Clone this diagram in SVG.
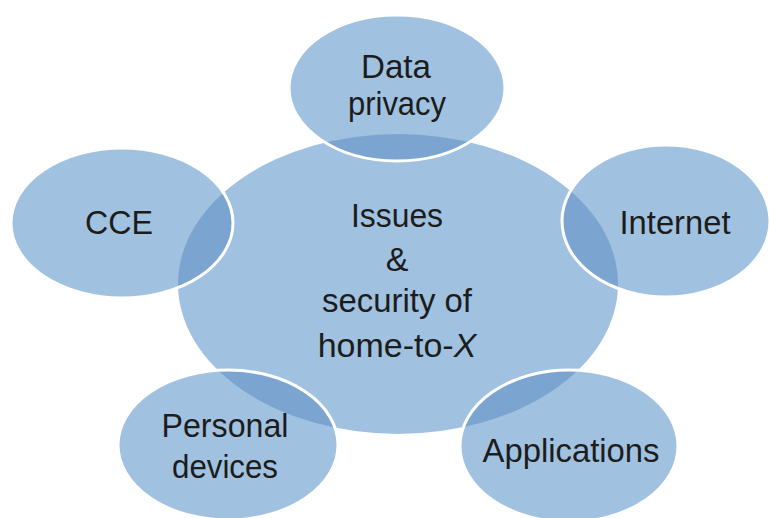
<svg xmlns="http://www.w3.org/2000/svg" width="770" height="518" viewBox="0 0 770 518">
  <style>
    .bg { fill: #ffffff; }
    .hub { fill: #a0c2e0; }
    .sat { fill: #a0c2e0; }
    .ov { fill: #7ba5d0; }
    .rim { fill: none; stroke: #ffffff; stroke-width: 3; }
    .lbl { font-family: "Liberation Sans", Arial, sans-serif; font-size: 34px; fill: #1c1c1c; text-anchor: middle; }
  </style>
  <defs>
    <clipPath id="hubClip">
      <ellipse cx="398" cy="284" rx="220" ry="150"/>
    </clipPath>
  </defs>
  <rect class="bg" x="0" y="0" width="770" height="518"/>

  <g id="hub">
    <ellipse class="hub" cx="398" cy="284" rx="220" ry="150"/>
  </g>

  <g id="connectors"/>

  <g id="node-data-privacy">
    <ellipse class="sat" cx="397" cy="88" rx="108" ry="73"/>
    <ellipse class="ov" cx="397" cy="88" rx="108" ry="73" clip-path="url(#hubClip)"/>
    <ellipse class="rim" cx="397" cy="88" rx="108" ry="73"/>
    <text class="lbl" x="396" y="78" textLength="70" lengthAdjust="spacingAndGlyphs">Data</text>
    <text class="lbl" x="397" y="115" textLength="98" lengthAdjust="spacingAndGlyphs">privacy</text>
  </g>

  <g id="node-cce">
    <ellipse class="sat" cx="122" cy="223" rx="111" ry="75"/>
    <ellipse class="ov" cx="122" cy="223" rx="111" ry="75" clip-path="url(#hubClip)"/>
    <ellipse class="rim" cx="122" cy="223" rx="111" ry="75"/>
    <text class="lbl" x="119" y="234" textLength="68" lengthAdjust="spacingAndGlyphs">CCE</text>
  </g>

  <g id="node-internet">
    <ellipse class="sat" cx="666" cy="221" rx="104" ry="76"/>
    <ellipse class="ov" cx="666" cy="221" rx="104" ry="76" clip-path="url(#hubClip)"/>
    <ellipse class="rim" cx="666" cy="221" rx="104" ry="76"/>
    <text class="lbl" x="675" y="234" textLength="111" lengthAdjust="spacingAndGlyphs">Internet</text>
  </g>

  <g id="node-personal-devices">
    <ellipse class="sat" cx="228" cy="445" rx="110" ry="75"/>
    <ellipse class="ov" cx="228" cy="445" rx="110" ry="75" clip-path="url(#hubClip)"/>
    <ellipse class="rim" cx="228" cy="445" rx="110" ry="75"/>
    <text class="lbl" x="225" y="437" textLength="127" lengthAdjust="spacingAndGlyphs">Personal</text>
    <text class="lbl" x="225" y="478" textLength="106" lengthAdjust="spacingAndGlyphs">devices</text>
  </g>

  <g id="node-applications">
    <ellipse class="sat" cx="569" cy="446" rx="109" ry="76"/>
    <ellipse class="ov" cx="569" cy="446" rx="109" ry="76" clip-path="url(#hubClip)"/>
    <ellipse class="rim" cx="569" cy="446" rx="109" ry="76"/>
    <text class="lbl" x="571" y="462" textLength="177" lengthAdjust="spacingAndGlyphs">Applications</text>
  </g>

  <g id="node-center-label">
    <text class="lbl" x="397" y="227" textLength="92" lengthAdjust="spacingAndGlyphs">Issues</text>
    <text class="lbl" x="397" y="271">&amp;</text>
    <text class="lbl" x="397" y="312" textLength="150" lengthAdjust="spacingAndGlyphs">security of</text>
    <text class="lbl" x="397" y="357" font-size="32.5">home-to-<tspan font-style="italic">X</tspan></text>
  </g>
</svg>
